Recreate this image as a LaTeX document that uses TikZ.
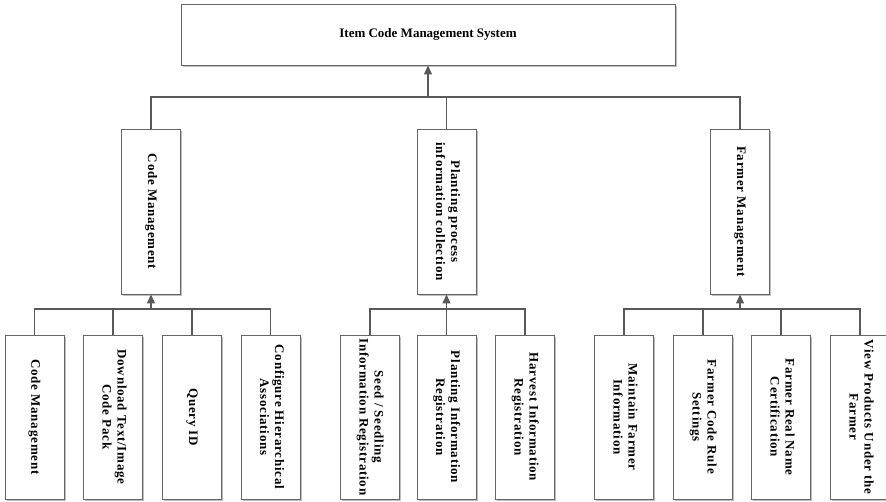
\documentclass[tikz,border=0pt]{standalone}
\usepackage{fontspec}
\setmainfont{Liberation Serif}
\newfontfamily\spacedfont[LetterSpace=6]{Liberation Serif}
\usetikzlibrary{arrows.meta,shadows}

\newcommand{\sidetext}[1]{\rotatebox{-90}{\begin{tabular}{@{}c@{}}#1\end{tabular}}}

\begin{document}
\begin{tikzpicture}[x=1pt,y=-1pt,
  >={Triangle[width=8pt,length=9pt]},
  line/.style={draw=black!65,line width=1.2pt},
  box/.style={draw=black!60,line width=0.9pt,fill=white,inner sep=0pt,
    drop shadow={shadow xshift=1.5pt,shadow yshift=-1.5pt,fill=black!25,opacity=1}},
  topbox/.style={box,minimum width=494pt,minimum height=61pt,
    font=\bfseries\fontsize{13}{15}\selectfont},
  midbox/.style={box,minimum width=59pt,minimum height=165pt,
    font=\spacedfont\bfseries\fontsize{13}{15}\selectfont},
  leafbox/.style={midbox,minimum height=164pt}]
\useasboundingbox (0,0) rectangle (886,501);

% root
\node[topbox] (sys) at (428,34.5) {Item Code Management System};

% second level
\node[midbox] (code) at (151,211.5) {\sidetext{Code Management}};
\node[midbox] (plant) at (446.5,211.5) {\sidetext{Planting process\\information collection}};
\node[midbox] (farmer) at (740,211.5) {\sidetext{Farmer Management}};

% leaves
\node[leafbox] (c1) at (34.5,417) {\sidetext{Code Management}};
\node[leafbox] (c2) at (113,417) {\sidetext{Download Text/Image\\Code Pack}};
\node[leafbox] (c3) at (192,417) {\sidetext{Query ID}};
\node[leafbox] (c4) at (270.5,417) {\sidetext{Configure Hierarchical\\Associations}};

\node[leafbox] (p1) at (370,417) {\sidetext{Seed / Seedling\\Information Registration}};
\node[leafbox] (p2) at (446.5,417) {\sidetext{Planting Information\\Registration}};
\node[leafbox] (p3) at (525,417) {\sidetext{Harvest Information\\Registration}};

\node[leafbox] (f1) at (624,417) {\sidetext{Maintain Farmer\\Information}};
\node[leafbox] (f2) at (703,417) {\sidetext{Farmer Code Rule\\Settings}};
\node[leafbox] (f3) at (781,417) {\sidetext{Farmer Real Name\\Certification}};
\node[leafbox] (f4) at (860,417) {\sidetext{View Products Under the\\Farmer}};

% buses
\coordinate (tb) at (428,97);
\coordinate (cb) at (151,309);
\coordinate (pb) at (446.5,309);
\coordinate (fb) at (740,309);

\draw[line] (code.north) |- (tb) -| (farmer.north);
\draw[line] (plant.north) -- (plant.north |- tb);
\draw[line,->] (tb) -- (sys.south);

\draw[line] (c1.north) |- (cb) -| (c4.north);
\draw[line] (c2.north) -- (c2.north |- cb);
\draw[line] (c3.north) -- (c3.north |- cb);
\draw[line,->] (cb) -- (code.south);

\draw[line] (p1.north) |- (pb) -| (p3.north);
\draw[line] (p2.north) -- (pb);
\draw[line,->] (pb) -- (plant.south);

\draw[line] (f1.north) |- (fb) -| (f4.north);
\draw[line] (f2.north) -- (f2.north |- fb);
\draw[line] (f3.north) -- (f3.north |- fb);
\draw[line,->] (fb) -- (farmer.south);
\end{tikzpicture}
\end{document}
